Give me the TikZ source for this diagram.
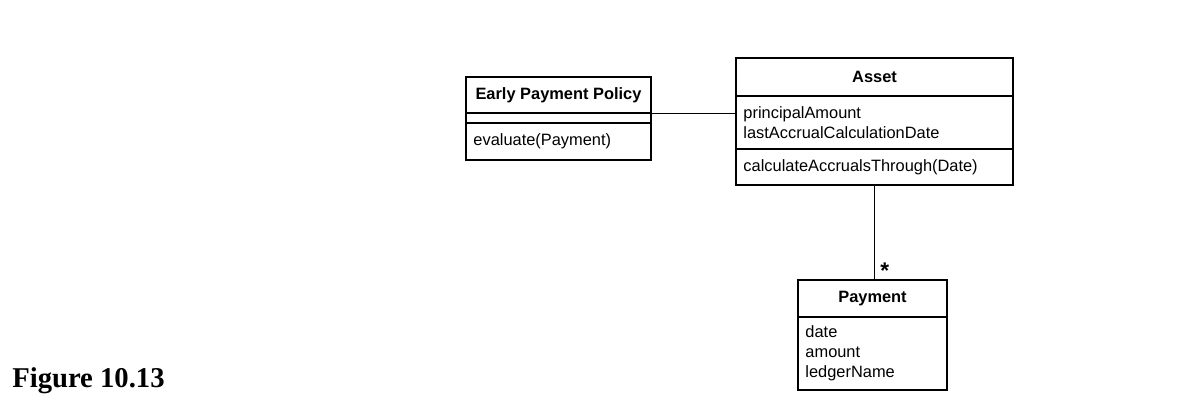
\documentclass[tikz,border=0pt]{standalone}
\usepackage{fontspec}
\newfontfamily\umlfont{Liberation Sans}
\newfontfamily\figfont{Liberation Serif}
\usetikzlibrary{positioning}

\begin{document}
\begin{tikzpicture}[x=0.75pt,y=-0.75pt,
		part/.style={draw=black,line width=1pt,outer sep=0pt,inner xsep=5.6pt,inner ysep=0pt,font=\umlfont\fontsize{12.3}{14.6}\selectfont},
		namepart/.style={part,font=\umlfont\bfseries\fontsize{12.3}{14.6}\selectfont},
		listpart/.style={part,align=left},
		link/.style={line width=0.7pt}]
		\useasboundingbox (0,0) rectangle (1194,410);
		
		\node[namepart,anchor=north west,minimum width=138.75pt,minimum height=27pt] (eppname) at (466,77) {Early Payment Policy};
		\node[part,minimum width=138.75pt,minimum height=7.5pt,below=0pt of eppname] (eppattr) {};
		\node[listpart,text width=127.55pt,minimum height=27.75pt,below=0pt of eppattr] (eppops) {evaluate(Payment)};
		
		\node[namepart,anchor=north west,minimum width=207.75pt,minimum height=28.5pt] (assetname) at (736,58) {Asset};
		\node[listpart,text width=196.55pt,minimum height=39.75pt,below=0pt of assetname] (assetattr) {principalAmount\\lastAccrualCalculationDate};
		\node[listpart,text width=196.55pt,minimum height=27pt,below=0pt of assetattr] (assetops) {calculateAccrualsThrough(Date)};
		
		\node[namepart,anchor=north west,minimum width=111.75pt,minimum height=27.75pt] (paymentname) at (798,280) {Payment};
		\node[listpart,text width=100.55pt,minimum height=54.75pt,below=0pt of paymentname,font=\umlfont\fontsize{12.3}{15}\selectfont] (paymentattr) {date\\amount\\ledgerName};
		
		\draw[link] (eppname.south east)--(eppname.south east -| assetattr.west);
		\draw[link] (assetops.south)--(assetops.south |- paymentname.north) node[anchor=south west,inner sep=1pt,xshift=3pt,font=\umlfont\bfseries\fontsize{17}{17}\selectfont] (mult) {*};
		
		\node[font=\figfont\bfseries\fontsize{21.5}{24}\selectfont,anchor=base west,inner sep=0pt] (figlabel) at (12,387) {Figure 10.13};
	\end{tikzpicture}
\end{document}
